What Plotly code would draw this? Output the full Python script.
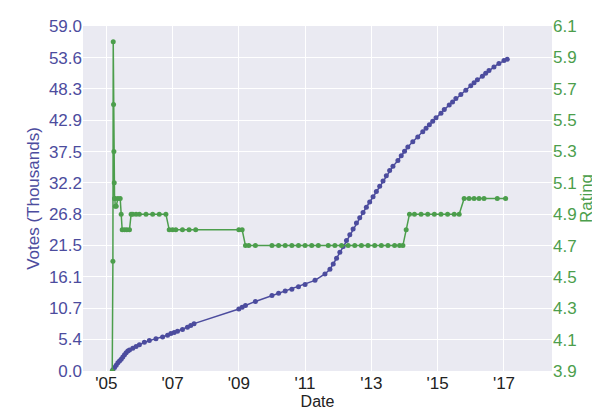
import plotly.graph_objects as go
import pandas as pd

vote_dates = [2005.20,2005.25,2005.30,2005.35,2005.40,2005.45,2005.50,2005.55,2005.60,2005.65,2005.70,2005.80,2005.90,2006.0,2006.15,2006.3,2006.5,2006.7,2006.85,2006.95,2007.05,2007.15,2007.3,2007.45,2007.55,2007.65,2009.0,2009.1,2009.2,2009.5,2010.0,2010.2,2010.4,2010.6,2010.8,2011.0,2011.3,2011.6,2011.75,2011.85,2011.95,2012.05,2012.15,2012.25,2012.35,2012.45,2012.55,2012.65,2012.75,2012.85,2012.95,2013.05,2013.15,2013.25,2013.35,2013.45,2013.55,2013.65,2013.8,2013.9,2014.0,2014.1,2014.25,2014.4,2014.55,2014.65,2014.75,2014.85,2014.95,2015.1,2015.2,2015.35,2015.45,2015.55,2015.7,2015.85,2016.0,2016.1,2016.2,2016.35,2016.45,2016.55,2016.7,2016.85,2017.0,2017.1]
votes = [0.2,0.6,1.0,1.4,1.7,2.0,2.4,2.8,3.1,3.4,3.6,3.9,4.2,4.5,4.9,5.2,5.5,5.8,6.1,6.4,6.6,6.8,7.1,7.5,7.8,8.1,10.6,10.9,11.2,11.9,12.9,13.3,13.7,14.0,14.4,14.8,15.5,16.6,17.4,18.3,19.3,20.3,21.3,22.3,23.3,24.3,25.3,26.2,27.1,28.0,28.9,29.8,30.7,31.6,32.5,33.4,34.3,35.0,36.0,36.8,37.6,38.3,39.2,40.0,40.9,41.5,42.1,42.7,43.3,44.1,44.7,45.5,46.0,46.6,47.3,48.0,48.8,49.3,49.8,50.4,50.9,51.4,52.0,52.6,53.1,53.3]

rating_dates = [2005.18,2005.20,2005.21,2005.22,2005.23,2005.24,2005.25,2005.26,2005.27,2005.30,2005.35,2005.42,2005.45,2005.48,2005.55,2005.62,2005.70,2005.75,2005.80,2005.9,2006.0,2006.2,2006.4,2006.6,2006.8,2006.9,2007.0,2007.1,2007.3,2007.5,2007.7,2009.0,2009.1,2009.2,2009.3,2009.5,2010.0,2010.2,2010.4,2010.6,2010.8,2011.0,2011.2,2011.4,2011.7,2011.9,2012.1,2012.3,2012.5,2012.7,2012.9,2013.1,2013.3,2013.5,2013.7,2013.85,2013.95,2014.05,2014.15,2014.3,2014.5,2014.7,2014.9,2015.1,2015.3,2015.5,2015.65,2015.8,2015.95,2016.1,2016.25,2016.4,2016.8,2017.05]
ratings = [3.9,4.6,6.0,5.6,5.3,5.1,5.0,5.0,4.95,4.95,5.0,5.0,4.9,4.8,4.8,4.8,4.8,4.9,4.9,4.9,4.9,4.9,4.9,4.9,4.9,4.8,4.8,4.8,4.8,4.8,4.8,4.8,4.8,4.7,4.7,4.7,4.7,4.7,4.7,4.7,4.7,4.7,4.7,4.7,4.7,4.7,4.7,4.7,4.7,4.7,4.7,4.7,4.7,4.7,4.7,4.7,4.7,4.8,4.9,4.9,4.9,4.9,4.9,4.9,4.9,4.9,4.9,5.0,5.0,5.0,5.0,5.0,5.0,5.0]

tick_years = [2005,2007,2009,2011,2013,2015,2017]
tick_labels = ["'05","'07","'09","'11","'13","'15","'17"]
left_ticks = [0.0,5.4,10.7,16.1,21.5,26.8,32.2,37.5,42.9,48.3,53.6,59.0]
right_ticks = [3.9,4.1,4.3,4.5,4.7,4.9,5.1,5.3,5.5,5.7,5.9,6.1]

def to_date(y):
    base = pd.Timestamp(int(y), 1, 1)
    return base + pd.Timedelta(days=(y - int(y)) * 365.25)

BLUE = "#4C4C9E"
GREEN = "#4C9E4C"
fig = go.Figure()
fig.add_trace(go.Scatter(x=[to_date(d) for d in vote_dates], y=votes, mode="lines+markers",
                         line=dict(color=BLUE, width=1.5), marker=dict(size=5, color=BLUE)))
fig.add_trace(go.Scatter(x=[to_date(d) for d in rating_dates], y=ratings, mode="lines+markers", yaxis="y2",
                         line=dict(color=GREEN, width=1.5), marker=dict(size=5, color=GREEN)))
font = "Liberation Sans"
fig.update_layout(
    width=600, height=420, showlegend=False,
    paper_bgcolor="white", plot_bgcolor="#EAEAF2",
    margin=dict(l=75, r=56, t=18, b=57, autoexpand=False),
    font=dict(family=font, size=16),
    xaxis=dict(range=[to_date(2004.3), to_date(2018.45)], tickvals=[to_date(y) for y in tick_years],
               ticktext=tick_labels, gridcolor="white", showline=False, zeroline=False,
               title=dict(text="Date", font=dict(size=16, color="#222"), standoff=2),
               tickfont=dict(size=17, color="#222")),
    yaxis=dict(range=[0, 59], tickvals=left_ticks, ticktext=[f"{v:.1f}" for v in left_ticks],
               gridcolor="white", zeroline=False, tickfont=dict(size=17, color=BLUE),
               title=dict(text="Votes (Thousands)", font=dict(size=17, color=BLUE), standoff=4)),
    yaxis2=dict(range=[3.9, 6.1], tickvals=right_ticks, ticktext=[f"{v:.1f}" for v in right_ticks],
                overlaying="y", side="right", showgrid=False, zeroline=False,
                tickfont=dict(size=17, color=GREEN),
                title=dict(text="Rating", font=dict(size=17, color=GREEN), standoff=2)),
)
fig.write_html("out.html")
